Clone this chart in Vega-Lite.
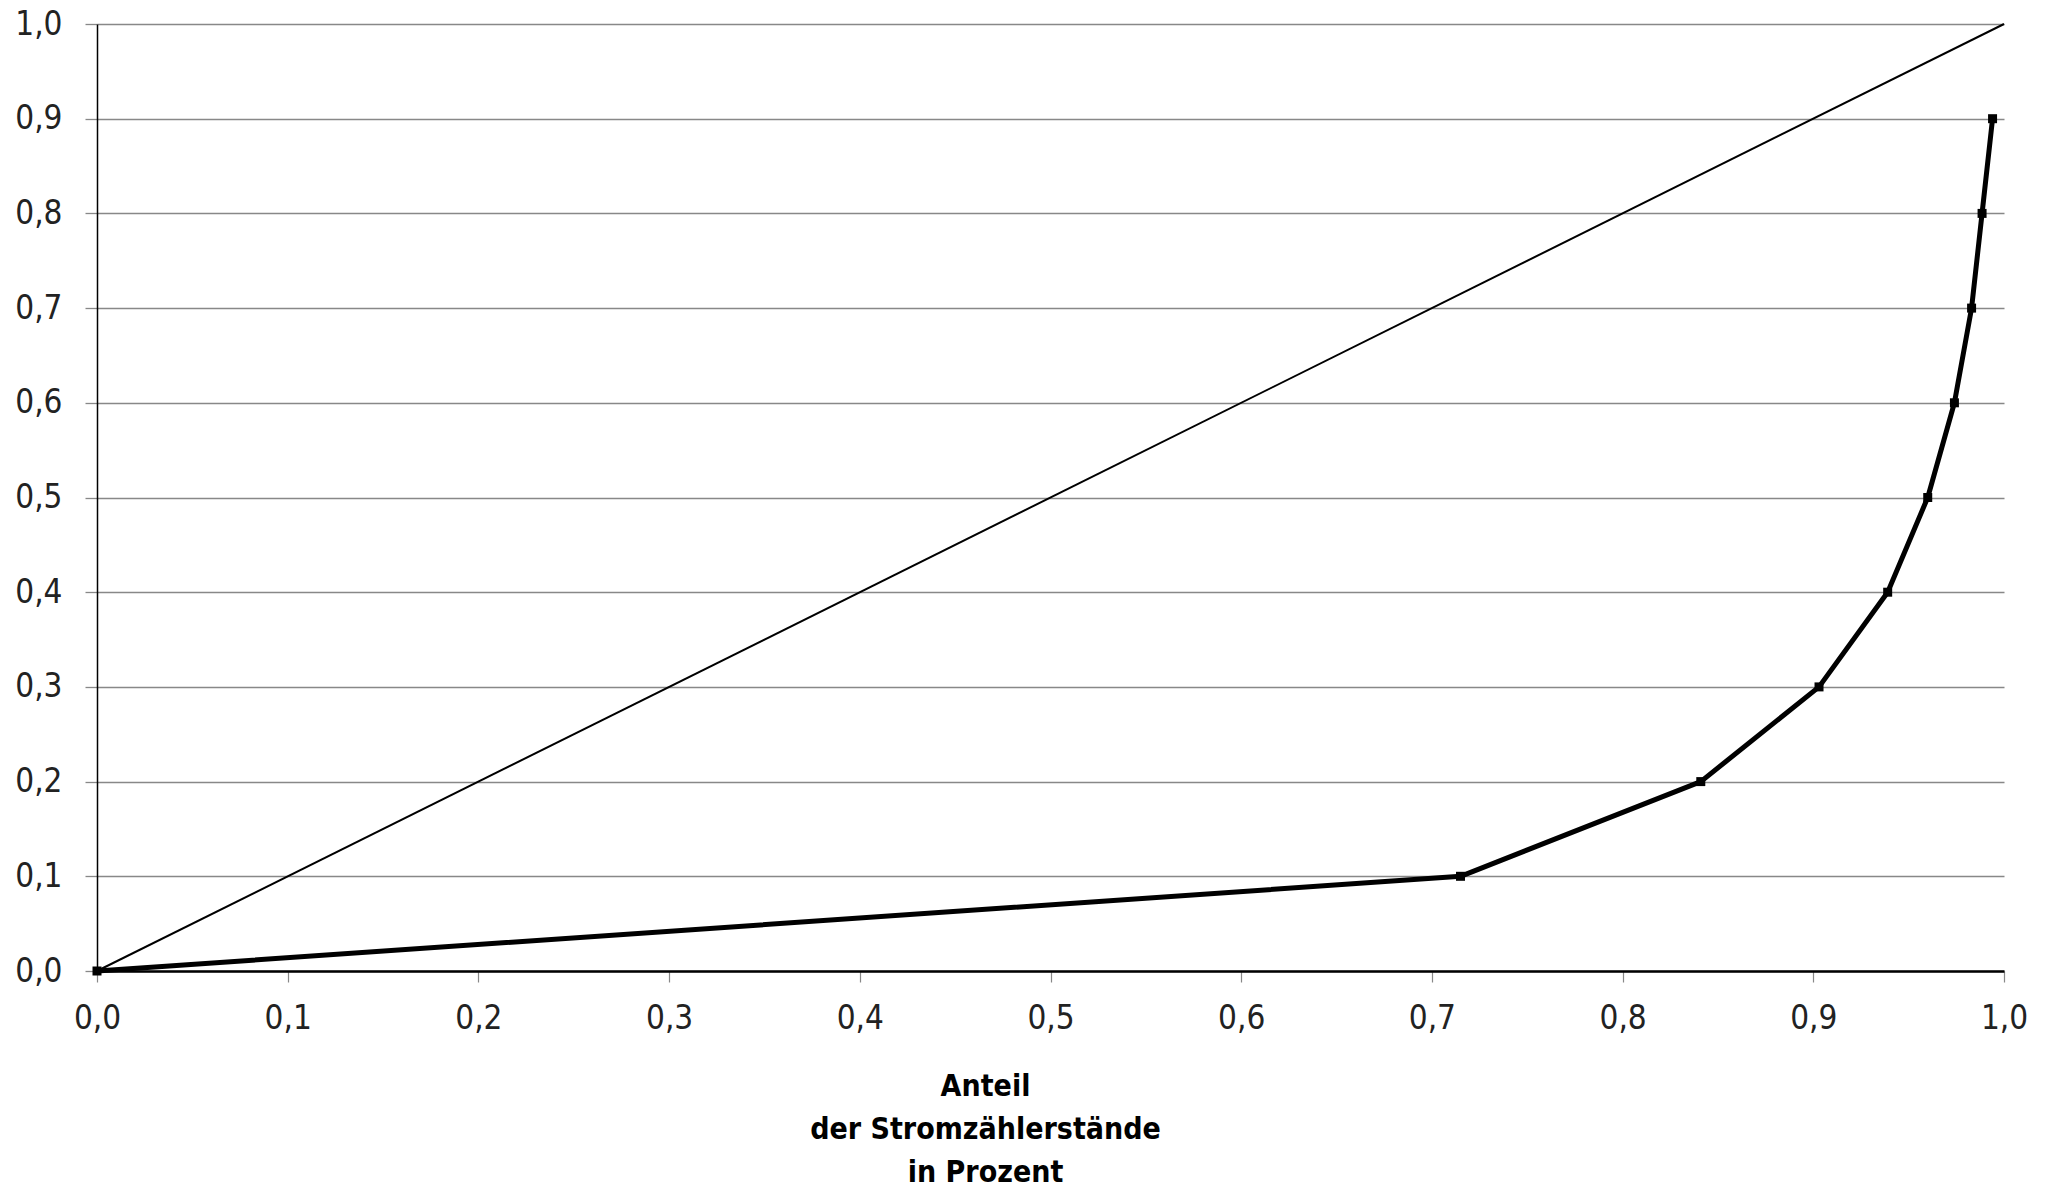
{
  "$schema": "https://vega.github.io/schema/vega-lite/v6.json",
  "width": 1907,
  "height": 947,
  "autosize": {"type": "none"},
  "padding": {"left": 97, "top": 24, "right": 49, "bottom": 216},
  "background": "white",
  "config": {
    "view": {"stroke": null},
    "font": "DejaVu Sans Condensed, Roboto, sans-serif"
  },
  "datasets": {
    "lorenz": [
      {"anteil_zaehler": 0.0, "anteil_verbrauch": 0.0},
      {"anteil_zaehler": 0.715, "anteil_verbrauch": 0.1},
      {"anteil_zaehler": 0.841, "anteil_verbrauch": 0.2},
      {"anteil_zaehler": 0.903, "anteil_verbrauch": 0.3},
      {"anteil_zaehler": 0.939, "anteil_verbrauch": 0.4},
      {"anteil_zaehler": 0.960, "anteil_verbrauch": 0.5},
      {"anteil_zaehler": 0.974, "anteil_verbrauch": 0.6},
      {"anteil_zaehler": 0.983, "anteil_verbrauch": 0.7},
      {"anteil_zaehler": 0.9885, "anteil_verbrauch": 0.8},
      {"anteil_zaehler": 0.994, "anteil_verbrauch": 0.9}
    ],
    "gleich": [
      {"anteil_zaehler": 0.0, "anteil_verbrauch": 0.0},
      {"anteil_zaehler": 1.0, "anteil_verbrauch": 1.0}
    ]
  },
  "encoding": {
    "x": {
      "field": "anteil_zaehler",
      "type": "quantitative",
      "scale": {"domain": [0, 1], "nice": false, "zero": false},
      "axis": {
        "values": [0, 0.1, 0.2, 0.3, 0.4, 0.5, 0.6, 0.7, 0.8, 0.9, 1.0],
        "labelExpr": "replace(format(datum.value, '.1f'), '.', ',')",
        "grid": false,
        "domainColor": "#000000",
        "domainWidth": 2.5,
        "tickColor": "#888888",
        "tickWidth": 1.2,
        "tickSize": 11,
        "labelFont": "DejaVu Sans Condensed, Roboto, sans-serif",
        "labelFontSize": 33,
        "labelColor": "#222222",
        "labelPadding": 20,
        "labelFlush": false,
        "title": ["Anteil", "der Stromzählerstände", "in Prozent"],
        "titleFont": "DejaVu Sans Condensed, Roboto, sans-serif",
        "titleFontWeight": "bold",
        "titleFontSize": 30,
        "titleColor": "#000000",
        "titleLineHeight": 43,
        "titleBaseline": "alphabetic",
        "titleAlign": "center",
        "titleX": 888,
        "titleY": 124
      }
    },
    "y": {
      "field": "anteil_verbrauch",
      "type": "quantitative",
      "scale": {"domain": [0, 1], "nice": false, "zero": false},
      "axis": {
        "values": [0, 0.1, 0.2, 0.3, 0.4, 0.5, 0.6, 0.7, 0.8, 0.9, 1.0],
        "labelExpr": "replace(format(datum.value, '.1f'), '.', ',')",
        "grid": true,
        "gridColor": "#888888",
        "gridWidth": 1.3,
        "domainColor": "#000000",
        "domainWidth": 1.5,
        "tickColor": "#888888",
        "tickWidth": 1.3,
        "tickSize": 12,
        "labelFont": "DejaVu Sans Condensed, Roboto, sans-serif",
        "labelFontSize": 33,
        "labelColor": "#222222",
        "labelPadding": 23,
        "labelFlush": false,
        "title": null
      }
    }
  },
  "layer": [
    {
      "data": {"name": "gleich"},
      "mark": {"type": "line", "color": "#000000", "strokeWidth": 2},
      "encoding": {}
    },
    {
      "data": {"name": "lorenz"},
      "mark": {"type": "line", "color": "#000000", "strokeWidth": 5, "strokeJoin": "round"},
      "encoding": {}
    },
    {
      "data": {"name": "lorenz"},
      "mark": {"type": "point", "shape": "square", "filled": true, "color": "#000000", "size": 81, "opacity": 1},
      "encoding": {}
    }
  ]
}
